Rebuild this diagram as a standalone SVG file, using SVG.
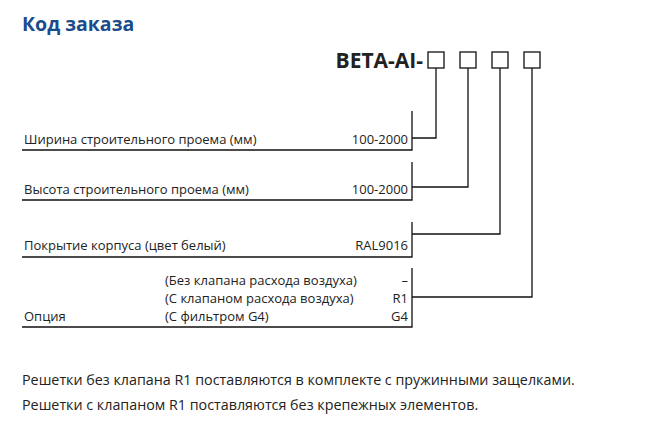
<svg xmlns="http://www.w3.org/2000/svg" width="653" height="448" viewBox="0 0 653 448">
<style>
text{font-family:"Open Sans","Noto Sans",sans-serif;font-size:13px;fill:#222}
.r{text-anchor:end}
.l{stroke:#111;stroke-width:1.3;fill:none}
</style>
<rect width="653" height="448" fill="#fff"/>
<text x="22" y="31" style="font-size:19.5px;font-weight:bold;fill:#1a4b8c">Код заказа</text>
<g id="code">
<text x="423" y="68" class="r" style="font-size:21px;font-weight:bold">BETA-AI-</text>
<rect class="l" x="428" y="52" width="16" height="16"/>
<rect class="l" x="460" y="52" width="16" height="16"/>
<rect class="l" x="492" y="52" width="16" height="16"/>
<rect class="l" x="524" y="52" width="16" height="16"/>
</g>
<g id="row1"><text x="24" y="144">Ширина строительного проема (мм)</text><text x="408" y="144" class="r">100-2000</text><path class="l" d="M22 150H412V111"/></g>
<g id="row2"><text x="24" y="194">Высота строительного проема (мм)</text><text x="408" y="194" class="r">100-2000</text><path class="l" d="M22 200H412V162"/></g>
<g id="row3"><text x="24" y="250">Покрытие корпуса (цвет белый)</text><text x="408" y="250" class="r">RAL9016</text><path class="l" d="M22 257H412V222"/></g>
<g id="row4"><text x="24" y="321">Опция</text><text x="165" y="285">(Без клапана расхода воздуха)</text><text x="165" y="303">(С клапаном расхода воздуха)</text><text x="165" y="321">(С фильтром G4)</text><text x="408" y="285" class="r">–</text><text x="408" y="303" class="r">R1</text><text x="408" y="321" class="r">G4</text><path class="l" d="M22 327H412V268"/></g>
<g id="connectors">
<path class="l" d="M436 68V138H412"/>
<path class="l" d="M468 68V187H412"/>
<path class="l" d="M500 68V234H412"/>
<path class="l" d="M532 68V297H412"/>
</g>
<text x="22" y="385" style="font-size:14.3px">Решетки без клапана R1 поставляются в комплекте с пружинными защелками.</text>
<text x="22" y="410" style="font-size:14.3px">Решетки с клапаном R1 поставляются без крепежных элементов.</text>
</svg>
